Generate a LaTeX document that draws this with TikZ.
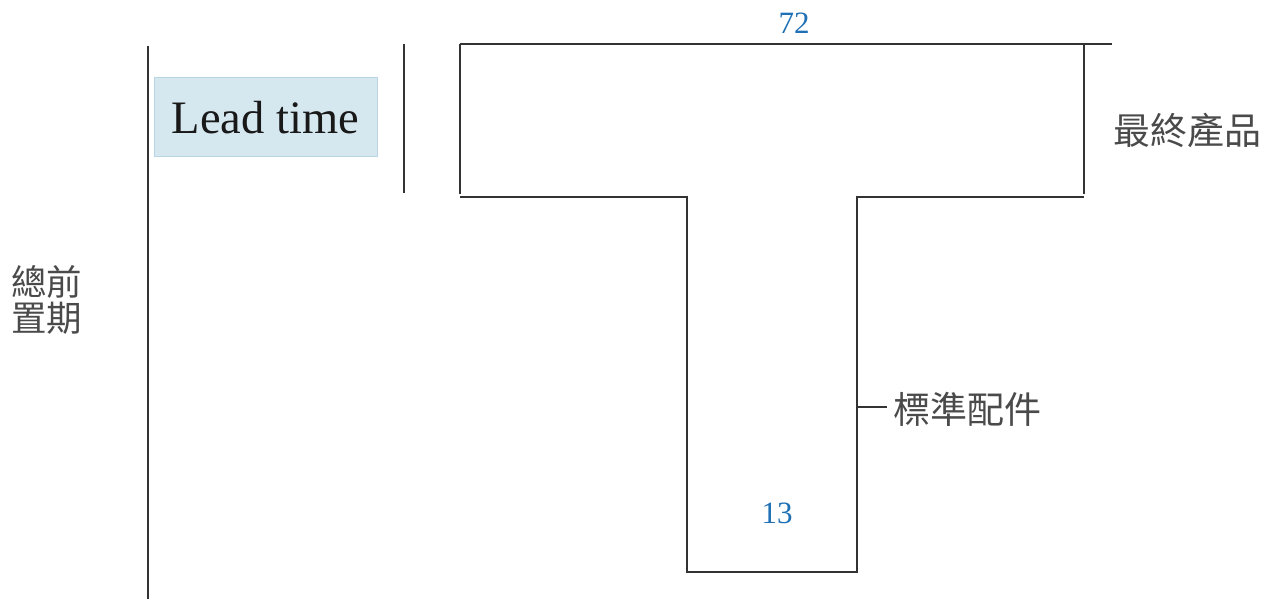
\documentclass[tikz,border=0pt]{standalone}
\usepackage{fontspec}
\setmainfont{Liberation Serif}
\newfontfamily\cjk{Noto Sans CJK TC}
\definecolor{boxfill}{HTML}{D5E8F0}
\definecolor{boxedge}{HTML}{B9D4E2}
\definecolor{numblue}{HTML}{1F70B5}
\definecolor{cjkgray}{HTML}{4A4A4A}
\definecolor{linegray}{HTML}{333333}
\begin{document}
\begin{tikzpicture}[x=1pt,y=-1pt,
  rule/.style={draw=linegray,line width=1.3pt},
  cjklabel/.style={font=\cjk\fontsize{37}{40}\selectfont,text=cjkgray,inner sep=0pt},
  numlabel/.style={font=\fontsize{31}{33}\selectfont,text=numblue,inner sep=0pt},
  leadbox/.style={draw=boxedge,line width=1pt,fill=boxfill,minimum width=223pt,minimum height=79pt,inner sep=0pt,font=\fontsize{46.5}{50}\selectfont,text=black!90}]
\useasboundingbox (0,0) rectangle (1270,599);
% vertical rules
\draw[rule] (148,46) -- (148,599);
\draw[rule] (404,44) -- (404,193);
% lead time box
\node[leadbox] (lead) at (265.5,117.5) {Lead time};
% T shape
\draw[rule] (460,44) -- (1112,44);
\draw[rule] (460,44) -- (460,194);
\draw[rule] (1084,44) -- (1084,194);
\draw[rule] (460,197) -- (687,197) -- (687,572) -- (858,572);
\draw[rule] (1084,197) -- (857,197) -- (857,572);
\coordinate (stemR) at (858,407);
% labels
\node[numlabel] (n72) at (794,23) {72};
\node[numlabel] (n13) at (777,513) {13};
\node[cjklabel,anchor=west] (final) at (1113,130) {最終產品};
\node[cjklabel,anchor=west] (std) at (893,409) {標準配件};
\node[cjklabel,align=left,anchor=west,font=\cjk\fontsize{35.5}{35.5}\selectfont] (total) at (11,300) {總前\\置期};
\draw[draw=linegray,line width=1.2pt] (stemR) -- ([xshift=-6pt]stemR -| std.west);
\end{tikzpicture}
\end{document}
